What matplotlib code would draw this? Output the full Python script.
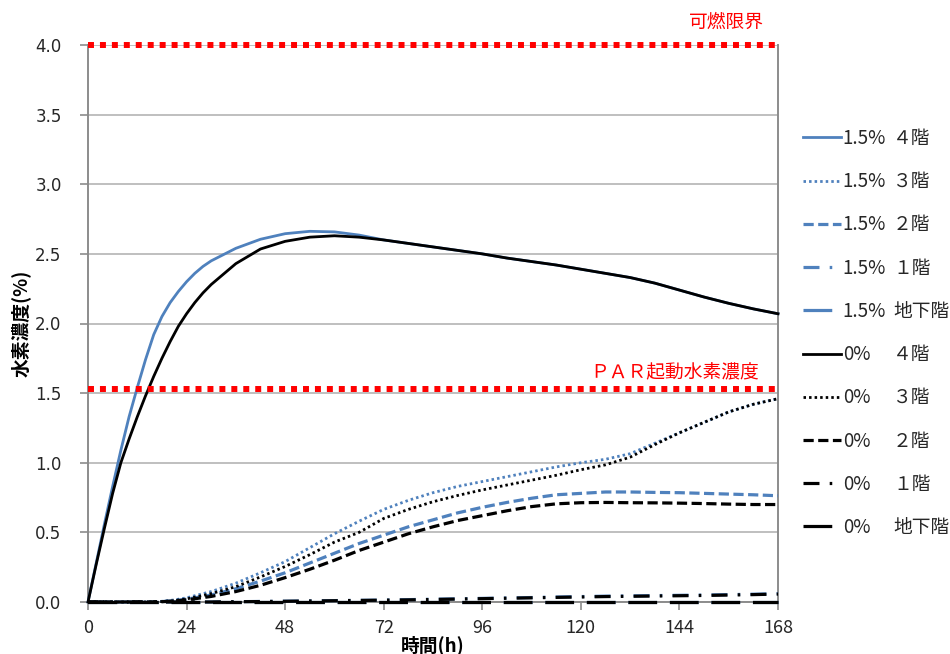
import matplotlib
matplotlib.use("Agg")
import matplotlib.pyplot as plt
from matplotlib.lines import Line2D

plt.rcParams['font.family'] = ['Noto Sans CJK JP', 'DejaVu Sans']

# ---------------- data ----------------
# 4th floor curves (finer time sampling)
hours_f4 = [0, 2, 4, 6, 8, 10, 12, 14, 16, 18, 20, 22, 24, 26, 28, 30, 36, 42, 48, 54, 60,
            66, 72, 78, 84, 90, 96, 102, 108, 114, 120, 126, 132, 138, 144, 150, 156, 162, 168]
par15_f4 = [0, 0.28, 0.56, 0.83, 1.09, 1.33, 1.54, 1.74, 1.92, 2.05, 2.15, 2.23, 2.30, 2.36,
            2.41, 2.45, 2.54, 2.605, 2.645, 2.662, 2.658, 2.635, 2.60, 2.575, 2.55, 2.525,
            2.50, 2.47, 2.445, 2.42, 2.39, 2.36, 2.33, 2.29, 2.24, 2.19, 2.145, 2.105, 2.07]
par0_f4 = [0, 0.27, 0.53, 0.78, 1.00, 1.17, 1.33, 1.48, 1.62, 1.75, 1.87, 1.98, 2.07, 2.15,
           2.22, 2.28, 2.43, 2.535, 2.59, 2.62, 2.63, 2.62, 2.60, 2.575, 2.55, 2.525,
           2.50, 2.47, 2.445, 2.42, 2.39, 2.36, 2.33, 2.29, 2.24, 2.19, 2.145, 2.105, 2.07]

# other floors
hours = [0, 3, 6, 9, 12, 15, 18, 21, 24, 30, 36, 42, 48, 54, 60, 66, 72, 78, 84, 90,
         96, 102, 108, 114, 120, 126, 132, 138, 144, 150, 156, 162, 168]
par15_f3 = [0, 0, 0, 0, 0, 0, 0.005, 0.015, 0.03, 0.075, 0.135, 0.21, 0.29, 0.39, 0.49, 0.58,
            0.665, 0.73, 0.785, 0.83, 0.865, 0.90, 0.935, 0.97, 1.00, 1.025, 1.065, 1.14, 1.215,
            1.29, 1.365, 1.42, 1.46]
par15_f2 = [0, 0, 0, 0, 0, 0, 0.003, 0.01, 0.02, 0.05, 0.095, 0.15, 0.21, 0.28, 0.35, 0.42,
            0.48, 0.54, 0.59, 0.64, 0.68, 0.715, 0.745, 0.77, 0.78, 0.79, 0.79, 0.787, 0.785,
            0.78, 0.775, 0.77, 0.763]
par15_f1 = [0, 0, 0, 0, 0, 0, 0, 0, 0, 0, 0.002, 0.004, 0.006, 0.008, 0.01, 0.012, 0.014, 0.017,
            0.02, 0.023, 0.026, 0.029, 0.032, 0.036, 0.039, 0.042, 0.044, 0.046, 0.048, 0.05,
            0.053, 0.056, 0.06]
par15_b1 = [0] * 33

par0_f3 = [0, 0, 0, 0, 0, 0, 0.003, 0.01, 0.022, 0.06, 0.11, 0.18, 0.255, 0.34, 0.43, 0.50,
           0.60, 0.665, 0.72, 0.765, 0.805, 0.84, 0.875, 0.91, 0.95, 0.985, 1.04, 1.13, 1.215,
           1.29, 1.365, 1.42, 1.46]
par0_f2 = [0, 0, 0, 0, 0, 0, 0.002, 0.007, 0.015, 0.04, 0.075, 0.12, 0.175, 0.235, 0.30, 0.37,
           0.43, 0.49, 0.54, 0.585, 0.62, 0.655, 0.685, 0.705, 0.713, 0.715, 0.713, 0.712, 0.71,
           0.707, 0.703, 0.70, 0.70]
par0_f1 = [0, 0, 0, 0, 0, 0, 0, 0, 0, 0, 0.002, 0.003, 0.005, 0.007, 0.009, 0.011, 0.013, 0.015,
           0.018, 0.021, 0.024, 0.027, 0.03, 0.033, 0.036, 0.039, 0.041, 0.043, 0.045, 0.047,
           0.05, 0.053, 0.057]
par0_b1 = [0] * 33

flammable_limit = 4.0
par_start = 1.53

case_labels = ["1.5%"] * 5 + ["0%"] * 5
floor_labels = ["４階", "３階", "２階", "１階", "地下階"] * 2
x_ticks = [0, 24, 48, 72, 96, 120, 144, 168]
y_ticks = [0.0, 0.5, 1.0, 1.5, 2.0, 2.5, 3.0, 3.5, 4.0]

# ---------------- styles ----------------
BLUE = "#4F81BD"
BLACK = "#000000"
styles = [
    dict(ls="-", lw=2.0),
    dict(ls=(0, (0.9, 1.1)), lw=2.0),
    dict(ls=(0, (3.2, 1.4)), lw=2.3),
    dict(ls=(0, (5.0, 3.2, 0.8, 3.2)), lw=2.3),
    dict(ls=(0, (9.0, 4.0)), lw=2.3),
]

fig = plt.figure(figsize=(9.5, 6.54), dpi=100)
ax = fig.add_axes([88 / 950, 1 - 602 / 654, (778 - 88) / 950, (602 - 45) / 654])

series_blue = [(hours_f4, par15_f4), (hours, par15_f3), (hours, par15_f2),
               (hours, par15_f1), (hours, par15_b1)]
series_black = [(hours_f4, par0_f4), (hours, par0_f3), (hours, par0_f2),
                (hours, par0_f1), (hours, par0_b1)]

handles = []
for (xs, vals), st in zip(series_blue, styles):
    h, = ax.plot(xs, vals, color=BLUE, linestyle=st["ls"], lw=st["lw"], zorder=3,
                 clip_on=False)
    handles.append(h)
for (xs, vals), st in zip(series_black, styles):
    h, = ax.plot(xs, vals, color=BLACK, linestyle=st["ls"], lw=st["lw"], zorder=4,
                 clip_on=False)
    handles.append(h)

# red threshold lines
RED = "#FF0000"
for yv in (flammable_limit, par_start):
    ax.axhline(yv, color=RED, lw=4.3, linestyle=(0, (1.0, 1.0)), dash_capstyle="butt",
               zorder=6, clip_on=False)
ax.text(164.6, 4.16, "可燃限界", color=RED, fontsize=13.5, ha="right", va="center")
ax.text(163.3, 1.645, "ＰＡＲ起動水素濃度", color=RED, fontsize=13.5, ha="right", va="center")

ax.set_xlim(0, 168)
ax.set_ylim(0, 4.0)
ax.set_xticks(x_ticks)
ax.set_yticks(y_ticks)
ax.set_yticklabels([f"{v:.1f}" for v in y_ticks], fontfamily="DejaVu Sans", fontsize=12)
ax.set_xticklabels([str(v) for v in x_ticks], fontsize=13)
ax.grid(axis="y", color="#BFBFBF", lw=1.4, zorder=0)
ax.set_axisbelow(True)

GRAY = "#8C8C8C"
for side in ("left", "bottom", "right"):
    ax.spines[side].set_color(GRAY)
    ax.spines[side].set_linewidth(1.4)
ax.spines["top"].set_visible(False)
ax.tick_params(axis="both", direction="out", length=6, width=1.2, color=GRAY,
               labelcolor="#262626")
ax.tick_params(axis="x", pad=6)
ax.tick_params(axis="y", pad=13)

ax.set_ylabel("水素濃度(%)", fontsize=13.5, fontweight="bold", labelpad=3)
ax.set_xlabel("時間(h)", fontsize=13.5, fontweight="bold", labelpad=-1)

# legends
leg_kw = dict(loc="upper left", frameon=False, fontsize=13.5, labelspacing=1.185,
              borderpad=0, borderaxespad=0)
leg1 = fig.legend(handles, case_labels, bbox_to_anchor=(803 / 950, 1 - 128 / 654),
                  handlelength=2.0, handletextpad=0.12, **leg_kw)
dummy = [Line2D([], [], color="none") for _ in floor_labels]
leg2 = fig.legend(dummy, floor_labels, bbox_to_anchor=(893 / 950, 1 - 128 / 654),
                  handlelength=0, handletextpad=0, **leg_kw)
for t in leg1.get_texts() + leg2.get_texts():
    t.set_color("#262626")

fig.savefig("out.png", dpi=100)
